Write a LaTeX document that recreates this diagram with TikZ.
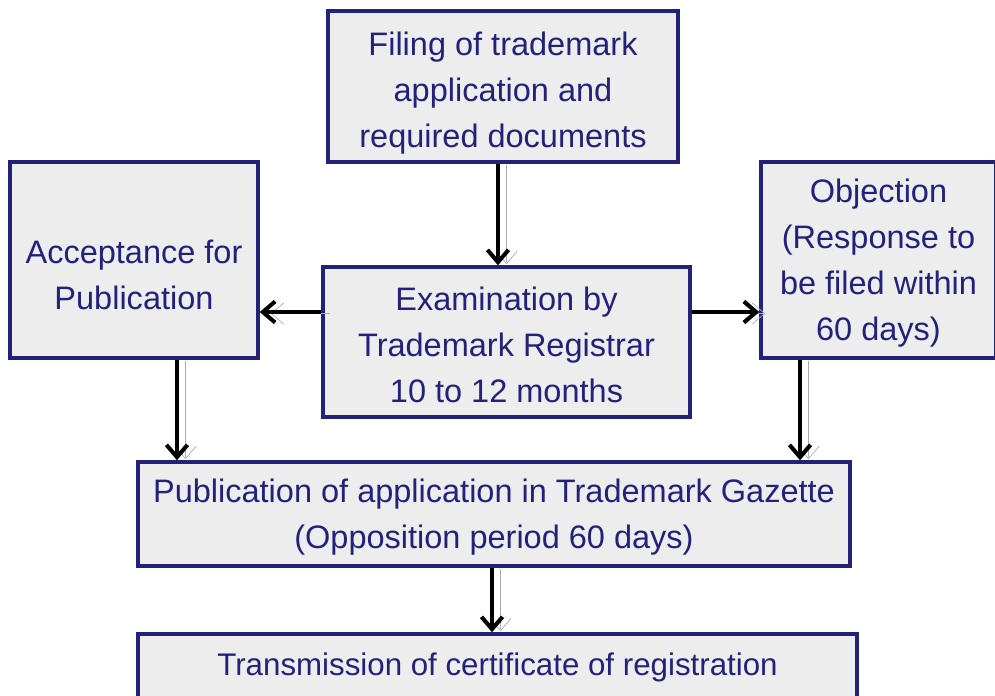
\documentclass[tikz,border=0pt]{standalone}
\usepackage{fontspec}
\setmainfont{Liberation Sans}
\usepackage{xcolor}
\usetikzlibrary{arrows.meta, positioning}
\definecolor{boxnavy}{HTML}{22227A}
\definecolor{boxfill}{HTML}{EDEDED}
\definecolor{shade}{HTML}{ABABAB}

\begin{document}
\begin{tikzpicture}[x=0.02cm, y=-0.02cm,
    stage/.style={draw=boxnavy, fill=boxfill, line width=2pt, inner sep=0pt},
    words/.style={text=boxnavy, align=center, inner sep=0pt, font=\fontsize{18.5}{26.2}\selectfont},
    flow/.style={line width=2.3pt, -{Straight Barb[length=7pt, width=12pt]},
        preaction={draw=shade, transform canvas={shift={(0.17cm,-0.03cm)}}}}]
				\useasboundingbox (0, 0) rectangle (995, 696);

				\node[stage, minimum width=7cm, minimum height=3.02cm,
				    label={[words, yshift=-0.13cm]center:{Filing of trademark\\application and\\required documents}}]
				    (filing) at (503, 86.5) {};
				\node[stage, minimum width=4.96cm, minimum height=3.92cm,
				    label={[words, yshift=-0.3cm]center:{Acceptance for\\Publication}}]
				    (accept) at (134, 260) {};
				\node[stage, minimum width=7.34cm, minimum height=3cm,
				    label={[words, yshift=-0.06cm]center:{Examination by\\Trademark Registrar\\10 to 12 months}}]
				    (exam) at (506.5, 342) {};
				\node[stage, minimum width=4.7cm, minimum height=3.92cm,
				    label={[words, yshift=-0.06cm]center:{Objection\\(Response to\\be filed within\\60 days)}}]
				    (objection) at (878.5, 260) {};
				\node[stage, minimum width=14.24cm, minimum height=2.08cm,
				    label={[words, yshift=-0.07cm]center:{Publication of application in Trademark Gazette\\(Opposition period 60 days)}}]
				    (pub) at (494, 514) {};
				\node[stage, minimum width=14.38cm, minimum height=1.32cm,
				    label={[words, font=\fontsize{17.8}{24}\selectfont]center:{Transmission of certificate of registration}}]
				    (trans) at (497.5, 667) {};

				\draw[flow] ([xshift=-0.1cm]filing.south) -- ([xshift=-0.1cm]filing.south |- exam.north);
				\draw[flow] ([yshift=0.6cm]exam.west) -- ([yshift=0.6cm]exam.west -| accept.east);
				\draw[flow] ([yshift=0.6cm]exam.east) -- ([yshift=0.6cm]exam.east -| objection.west);
				\draw[flow] ([xshift=0.86cm]accept.south) -- ([xshift=0.86cm]accept.south |- pub.north);
				\draw[flow] ([xshift=-1.57cm]objection.south) -- ([xshift=-1.57cm]objection.south |- pub.north);
				\draw[flow] ([xshift=-0.04cm]pub.south) -- ([xshift=-0.04cm]pub.south |- trans.north);
			\end{tikzpicture}
\end{document}
